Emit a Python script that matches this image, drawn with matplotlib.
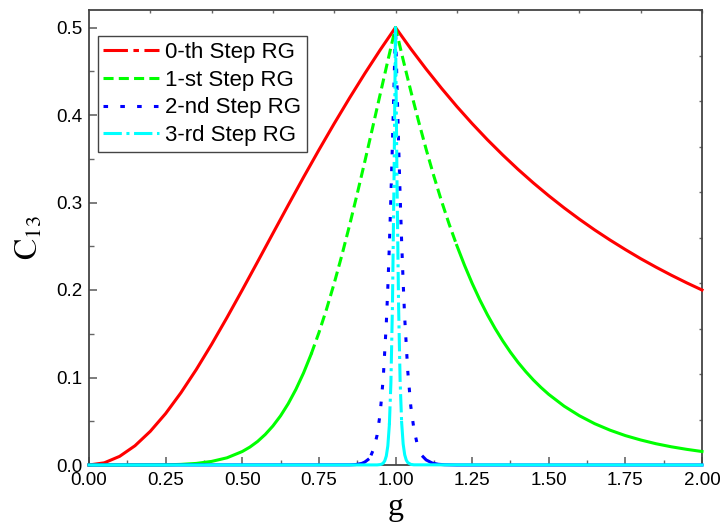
import numpy as np
import matplotlib
matplotlib.use('Agg')
import matplotlib.pyplot as plt
from matplotlib.lines import Line2D
from matplotlib.ticker import MultipleLocator, FixedLocator, NullFormatter

# values
g0 = [0.0, 0.05, 0.1, 0.15, 0.2, 0.25, 0.3, 0.35, 0.4, 0.45, 0.5, 0.55, 0.6, 0.65, 0.7,
      0.75, 0.8, 0.85, 0.9, 0.95, 1.0, 1.05, 1.1, 1.15, 1.2, 1.25, 1.3, 1.35, 1.4, 1.45,
      1.5, 1.55, 1.6, 1.65, 1.7, 1.75, 1.8, 1.85, 1.9, 1.95, 2.0]
c0 = [0.0, 0.0025, 0.0099, 0.0220, 0.0385, 0.0588, 0.0826, 0.1091, 0.1379, 0.1684, 0.2000,
      0.2322, 0.2647, 0.2970, 0.3289, 0.3600, 0.3902, 0.4194, 0.4475, 0.4744, 0.5000,
      0.4756, 0.4525, 0.4306, 0.4098, 0.3902, 0.3717, 0.3543, 0.3378, 0.3223, 0.3077,
      0.2939, 0.2809, 0.2686, 0.2571, 0.2462, 0.2358, 0.2261, 0.2169, 0.2082, 0.2000]

g1 = [0.0, 0.1, 0.2, 0.25, 0.3, 0.35, 0.4, 0.45, 0.5, 0.525, 0.55, 0.575, 0.6, 0.625,
      0.65, 0.675, 0.7, 0.725, 0.75, 0.775, 0.8, 0.825, 0.85, 0.875, 0.9, 0.925, 0.95,
      0.975, 1.0, 1.025, 1.05, 1.075, 1.1, 1.125, 1.15, 1.175, 1.2, 1.225, 1.25, 1.275,
      1.3, 1.325, 1.35, 1.375, 1.4, 1.425, 1.45, 1.475, 1.5, 1.55, 1.6, 1.65, 1.7, 1.75,
      1.8, 1.85, 1.9, 1.95, 2.0]
c1 = [0.0, 0.0, 0.0001, 0.0002, 0.0007, 0.0018, 0.0041, 0.0082, 0.0154, 0.0205, 0.0269,
      0.0349, 0.0446, 0.0562, 0.0701, 0.0864, 0.1052, 0.1268, 0.1511, 0.1781, 0.2077,
      0.2397, 0.2738, 0.3098, 0.3470, 0.3851, 0.4237, 0.4621, 0.5000, 0.4630, 0.4273,
      0.3932, 0.3608, 0.3303, 0.3018, 0.2753, 0.2509, 0.2284, 0.2077, 0.1888, 0.1716,
      0.1560, 0.1418, 0.1289, 0.1172, 0.1067, 0.0971, 0.0885, 0.0807, 0.0673, 0.0563,
      0.0472, 0.0398, 0.0336, 0.0286, 0.0243, 0.0208, 0.0179, 0.0154]

g2 = [0.0, 0.85, 0.87, 0.89, 0.9, 0.91, 0.92, 0.93, 0.94, 0.95, 0.96, 0.97, 0.975, 0.98,
      0.985, 0.99, 0.995, 1.0, 1.005, 1.01, 1.015, 1.02, 1.025, 1.03, 1.04, 1.05, 1.06,
      1.07, 1.08, 1.09, 1.1, 1.12, 1.14, 1.16, 1.2, 2.0]
c2 = [0.0, 0.0002, 0.0005, 0.0018, 0.0034, 0.0061, 0.0110, 0.0195, 0.0342, 0.0590, 0.0994,
      0.1618, 0.2031, 0.2515, 0.3066, 0.3676, 0.4327, 0.5000, 0.4331, 0.3688, 0.3092,
      0.2555, 0.2086, 0.1685, 0.1074, 0.0669, 0.0412, 0.0252, 0.0154, 0.0094, 0.0058,
      0.0022, 0.0008, 0.0003, 0.0, 0.0]

g3 = [0.0, 0.94, 0.95, 0.955, 0.96, 0.965, 0.97, 0.975, 0.98, 0.985, 0.99, 0.995, 1.0,
      1.005, 1.01, 1.015, 1.02, 1.025, 1.03, 1.035, 1.04, 1.05, 1.06, 2.0]
c3 = [0.0, 0.0001, 0.0005, 0.0010, 0.0022, 0.0048, 0.0103, 0.0219, 0.0461, 0.0939, 0.1814,
      0.3204, 0.5000, 0.3212, 0.1836, 0.0968, 0.0488, 0.0240, 0.0117, 0.0057, 0.0028,
      0.0007, 0.0002, 0.0]

labels = ['0-th Step RG', '1-st Step RG', '2-nd Step RG', '3-rd Step RG']
colors = ['#ff0000', '#00ff00', '#0000ff', '#00ffff']
styles = [(0, (8, 1.8, 1.8, 1.8)), (0, (3.3, 1.7)), (0, (1.5, 4)), (0, (6, 1.5, 1, 1.5))]
# g-range where the pattern shows (flat parts look solid in the original)
pattern_range = [None, (0.725, 1.2), (0.915, 1.085), (0.98, 1.02)]

plt.rcParams['font.family'] = ['Liberation Sans', 'DejaVu Sans']
plt.rcParams['mathtext.fontset'] = 'stix'

fig = plt.figure(figsize=(7.23, 5.27), dpi=100)
ax = fig.add_axes([89 / 723, 62 / 527, 613 / 723, 455 / 527])

lw = 2.2
for g, c, col, ls, rng in zip([g0, g1, g2, g3], [c0, c1, c2, c3], colors, styles, pattern_range):
    g = np.array(g)
    c = np.array(c)
    if rng is None:
        ax.plot(g, c, color=col, lw=lw, clip_on=False, zorder=3)
        continue
    lo, hi = rng
    solid = np.where((g <= lo) | (g >= hi), c, np.nan)
    patt = np.where((g >= lo) & (g <= hi), c, np.nan)
    ax.plot(g, solid, color=col, lw=lw, clip_on=False, zorder=3)
    ax.plot(g, patt, color=col, lw=lw, ls=ls, clip_on=False, zorder=3)

ax.set_xlim(0, 2)
ax.set_ylim(0, 0.52)
ax.xaxis.set_major_locator(MultipleLocator(0.25))
ax.xaxis.set_minor_locator(MultipleLocator(0.125))
ax.yaxis.set_major_locator(FixedLocator([0.0, 0.1, 0.2, 0.3, 0.4, 0.5]))
ax.yaxis.set_minor_locator(FixedLocator([0.05, 0.15, 0.25, 0.35, 0.45]))
ax.xaxis.set_major_formatter(plt.FormatStrFormatter('%.2f'))
ax.yaxis.set_major_formatter(plt.FormatStrFormatter('%.1f'))
ax.tick_params(which='major', direction='in', length=6, width=1.2, color='#666666',
               labelsize=13.5, pad=5, top=False, right=False)
ax.tick_params(which='minor', direction='in', length=3.5, width=1.0, color='#666666',
               top=False, right=False)
for sp in ax.spines.values():
    sp.set_color('#444444')
    sp.set_linewidth(1.3)

# tiny ticks of the opposite axes
top = ax.secondary_xaxis('top')
top.xaxis.set_major_locator(FixedLocator([0.2, 0.4, 0.6, 0.8, 1.0, 1.2, 1.4, 1.6, 1.8, 2.0]))
top.xaxis.set_major_formatter(NullFormatter())
top.tick_params(direction='in', length=2, width=1.0, color='#666666')
top.spines['top'].set_visible(False)
right = ax.secondary_yaxis('right')
right.yaxis.set_major_locator(FixedLocator([0.052, 0.104, 0.156, 0.208, 0.26, 0.312,
                                            0.364, 0.416, 0.468, 0.52]))
right.yaxis.set_major_formatter(NullFormatter())
right.tick_params(direction='in', length=2.5, width=1.0, color='#666666')
right.spines['right'].set_visible(False)

ax.set_xlabel('g', fontfamily='Liberation Serif', fontsize=23, labelpad=3)
ax.set_ylabel(r'$\mathrm{C}_{13}$', fontsize=23, labelpad=8)

handles = [Line2D([], [], color=col, lw=lw, ls=ls) for col, ls in zip(colors, styles)]
leg = ax.legend(handles, labels, loc='upper left', bbox_to_anchor=(0.014, 0.942),
                borderaxespad=0, fontsize=16, handlelength=2.5, handletextpad=0.3,
                labelspacing=0.3, borderpad=0.25, fancybox=False, framealpha=1)
leg.get_frame().set_edgecolor('#444444')
leg.get_frame().set_linewidth(1.0)

fig.savefig('out.png', dpi=100)
